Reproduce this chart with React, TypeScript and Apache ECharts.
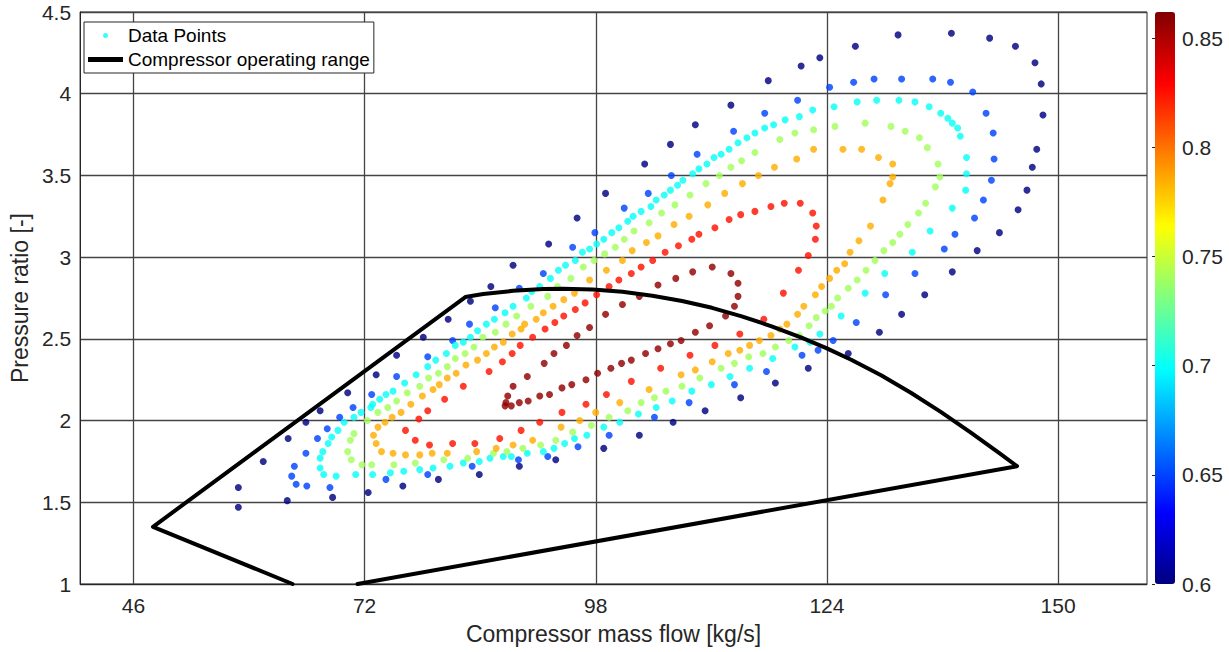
import React, { useEffect, useRef } from "react";
import * as echarts from "echarts";

// Axis tick labels
const xTickValues = [46, 72, 98, 124, 150];

// Efficiency level of each ring of data points (colour value)
const efficiencyLevels = [0.6, 0.65, 0.7, 0.74, 0.785, 0.825, 0.857];

// [mass flow, pressure ratio] for each efficiency ring
const ring060 = [[57.8,1.47],[63.3,1.51],[68.4,1.53],[72.4,1.56],[76.3,1.60],[80.3,1.64],[84.9,1.67],[89.4,1.72],[93.5,1.76],[98.9,1.83],[102.9,1.91],[106.7,1.99],[110.3,2.06],[114.3,2.14],[118.2,2.23],[121.9,2.32],[126.4,2.41],[129.9,2.54],[132.4,2.65],[135.0,2.77],[138.1,2.91],[140.9,3.04],[143.4,3.15],[145.5,3.29],[146.5,3.41],[147.1,3.55],[147.6,3.66],[148.3,3.87],[148.1,4.06],[147.4,4.19],[145.2,4.29],[142.3,4.34],[138.0,4.37],[132.0,4.36],[127.2,4.29],[123.2,4.22],[121.1,4.17],[117.4,4.08],[113.2,3.93],[109.2,3.81],[106.4,3.69],[103.5,3.57],[99.1,3.39],[95.9,3.24],[92.7,3.08],[88.7,2.95],[86.2,2.82],[83.9,2.73],[81.4,2.62],[78.6,2.51],[75.6,2.40],[73.3,2.28],[70.1,2.17],[67.0,2.06],[65.4,1.99],[63.4,1.89],[60.6,1.75],[57.8,1.59]];

const ring065 = [[63.8,1.66],[64.3,1.61],[65.5,1.60],[68.1,1.59],[74.4,1.64],[79.1,1.67],[84.1,1.72],[89.3,1.76],[92.6,1.78],[96.0,1.84],[99.5,1.91],[104.6,2.02],[108.5,2.11],[113.6,2.22],[117.2,2.30],[121.2,2.40],[123.0,2.43],[124.7,2.49],[127.3,2.60],[130.6,2.77],[133.9,2.90],[137.2,3.05],[138.4,3.14],[140.6,3.24],[141.6,3.35],[142.5,3.47],[142.8,3.60],[142.7,3.76],[141.9,3.88],[140.4,4.01],[137.9,4.07],[135.9,4.09],[132.4,4.09],[129.3,4.09],[127.0,4.07],[124.3,4.04],[120.7,3.96],[117.0,3.88],[113.5,3.77],[109.4,3.63],[106.5,3.50],[103.9,3.39],[101.2,3.30],[97.9,3.15],[95.4,3.06],[92.1,2.90],[89.4,2.81],[86.7,2.69],[83.8,2.59],[81.9,2.49],[79.1,2.39],[75.6,2.27],[72.8,2.16],[70.7,2.08],[69.2,2.02],[67.8,1.95],[66.7,1.89],[65.4,1.80],[64.1,1.72]];

const ring070 = [[67.0,1.71],[67.4,1.67],[68.8,1.66],[71.0,1.67],[72.9,1.67],[74.9,1.68],[76.4,1.69],[78.2,1.70],[79.7,1.71],[81.6,1.72],[83.1,1.74],[84.9,1.75],[86.1,1.77],[87.6,1.78],[88.5,1.78],[90.3,1.80],[92.1,1.81],[93.3,1.83],[94.5,1.86],[95.6,1.89],[97.0,1.91],[98.9,1.96],[100.7,1.99],[102.8,2.04],[104.8,2.08],[106.6,2.12],[108.8,2.18],[111.0,2.22],[113.1,2.27],[115.3,2.32],[117.9,2.38],[120.4,2.45],[122.1,2.48],[123.2,2.53],[125.6,2.64],[128.3,2.78],[130.5,2.90],[133.6,3.03],[135.6,3.16],[138.1,3.30],[139.6,3.41],[139.7,3.51],[139.7,3.61],[139.0,3.74],[138.7,3.79],[138.1,3.82],[137.6,3.85],[136.8,3.88],[135.5,3.92],[133.9,3.95],[132.1,3.96],[129.6,3.96],[127.4,3.95],[124.8,3.92],[122.4,3.90],[120.9,3.86],[119.3,3.84],[118.0,3.81],[117.0,3.79],[115.9,3.76],[115.0,3.73],[114.0,3.70],[113.0,3.66],[112.1,3.63],[111.3,3.61],[110.5,3.57],[109.6,3.54],[108.9,3.51],[107.8,3.47],[107.2,3.44],[106.4,3.41],[105.7,3.38],[104.8,3.35],[104.2,3.31],[103.1,3.28],[102.2,3.25],[101.6,3.22],[100.6,3.18],[99.8,3.15],[98.9,3.11],[98.1,3.08],[97.3,3.05],[96.5,3.03],[95.7,2.98],[94.6,2.95],[93.8,2.92],[92.9,2.87],[91.7,2.82],[90.8,2.79],[90.2,2.75],[88.7,2.70],[87.8,2.66],[86.6,2.62],[85.7,2.59],[84.7,2.55],[83.9,2.51],[83.1,2.48],[82.2,2.46],[81.2,2.41],[80.0,2.37],[79.1,2.33],[77.8,2.28],[76.5,2.23],[75.2,2.18],[74.4,2.16],[73.7,2.13],[72.9,2.10],[72.7,2.08],[71.6,2.05],[70.8,2.02],[69.7,1.99],[69.0,1.94],[68.3,1.90],[67.9,1.86],[67.3,1.81],[67.0,1.77]];

const ring074 = [[70.1,1.81],[70.5,1.76],[71.7,1.73],[72.8,1.73],[75.3,1.73],[77.7,1.74],[80.9,1.76],[83.6,1.77],[86.5,1.80],[88.0,1.81],[89.8,1.83],[91.8,1.85],[93.5,1.88],[95.4,1.93],[97.5,1.97],[99.5,2.02],[101.6,2.06],[103.1,2.11],[104.6,2.14],[105.9,2.18],[107.7,2.21],[109.7,2.26],[112.1,2.32],[113.6,2.35],[115.2,2.39],[116.8,2.41],[118.2,2.45],[119.7,2.49],[120.9,2.52],[122.0,2.58],[122.8,2.63],[123.8,2.67],[124.5,2.70],[125.2,2.75],[126.4,2.81],[127.4,2.86],[128.4,2.92],[129.4,2.98],[130.4,3.04],[131.4,3.09],[132.2,3.14],[133.1,3.20],[134.3,3.27],[135.1,3.33],[136.2,3.43],[136.7,3.49],[136.5,3.57],[135.3,3.67],[134.4,3.73],[132.8,3.77],[131.2,3.80],[128.3,3.82],[124.9,3.80],[122.5,3.78],[120.4,3.76],[118.7,3.72],[115.9,3.64],[114.4,3.59],[113.2,3.55],[111.9,3.50],[110.4,3.45],[108.6,3.38],[106.9,3.32],[105.4,3.27],[104.0,3.21],[102.3,3.16],[101.2,3.11],[100.2,3.06],[99.0,3.02],[97.8,2.98],[96.6,2.94],[95.2,2.87],[93.7,2.82],[92.6,2.76],[90.7,2.70],[89.1,2.64],[87.9,2.59],[86.7,2.54],[85.3,2.51],[84.3,2.45],[83.3,2.41],[82.2,2.38],[81.3,2.33],[80.3,2.29],[79.2,2.26],[78.2,2.21],[76.8,2.17],[75.6,2.12],[74.6,2.08],[73.5,2.05],[72.3,2.00],[70.8,1.92],[70.4,1.88]];

const ring078 = [[73.0,1.91],[73.3,1.86],[73.9,1.81],[75.2,1.80],[76.6,1.79],[78.2,1.79],[79.6,1.80],[81.3,1.80],[84.6,1.81],[86.8,1.83],[88.7,1.85],[90.9,1.88],[94.1,1.96],[96.2,2.00],[98.0,2.05],[100.7,2.11],[104.0,2.19],[107.6,2.28],[109.2,2.31],[111.1,2.36],[112.9,2.41],[114.2,2.43],[115.3,2.46],[116.4,2.49],[117.7,2.52],[118.7,2.56],[119.5,2.59],[120.7,2.65],[121.4,2.70],[122.7,2.77],[123.4,2.82],[124.3,2.87],[125.1,2.92],[126.0,2.96],[126.6,3.03],[127.6,3.10],[128.9,3.19],[130.3,3.35],[131.1,3.45],[131.4,3.49],[131.4,3.57],[129.8,3.61],[127.9,3.66],[125.8,3.66],[122.5,3.66],[120.6,3.60],[118.1,3.55],[116.3,3.50],[114.5,3.45],[112.5,3.39],[110.6,3.32],[108.5,3.25],[106.8,3.20],[105.0,3.13],[103.7,3.09],[102.1,3.04],[101.0,2.98],[99.2,2.92],[97.3,2.86],[95.6,2.78],[94.4,2.74],[93.2,2.70],[92.1,2.66],[91.3,2.62],[90.0,2.59],[89.6,2.56],[88.6,2.53],[87.6,2.48],[86.6,2.45],[85.7,2.41],[84.7,2.37],[83.4,2.34],[82.3,2.29],[81.3,2.26],[80.4,2.22],[79.7,2.19],[78.5,2.15],[77.2,2.10],[76.1,2.05],[75.1,2.02],[74.3,1.99],[73.5,1.96]];

const ring082 = [[76.6,1.94],[77.7,1.88],[79.3,1.85],[81.9,1.86],[84.4,1.86],[87.2,1.89],[89.6,1.94],[91.7,1.99],[94.2,2.05],[96.9,2.10],[99.2,2.16],[102.0,2.24],[105.3,2.32],[108.6,2.40],[111.4,2.46],[114.2,2.53],[116.9,2.62],[119.1,2.78],[120.8,2.92],[121.9,3.01],[122.7,3.11],[122.8,3.19],[122.4,3.27],[121.0,3.33],[119.2,3.33],[117.7,3.31],[115.9,3.28],[114.3,3.26],[113.0,3.23],[111.4,3.18],[109.6,3.14],[108.8,3.11],[107.3,3.07],[105.8,3.03],[104.4,2.98],[103.1,2.94],[102.0,2.90],[100.6,2.86],[99.5,2.82],[98.1,2.77],[96.8,2.72],[95.7,2.68],[94.4,2.64],[93.4,2.60],[92.3,2.56],[90.9,2.51],[89.5,2.46],[88.6,2.41],[87.5,2.36],[86.0,2.30],[83.1,2.21],[81.0,2.13],[79.1,2.06],[78.1,2.01]];

const ring086 = [[87.9,2.11],[87.8,2.09],[88.5,2.09],[89.4,2.11],[90.4,2.12],[91.7,2.15],[92.8,2.16],[94.2,2.20],[95.3,2.22],[96.9,2.25],[98.2,2.29],[99.7,2.32],[100.9,2.35],[102.0,2.37],[103.6,2.41],[105.0,2.44],[106.4,2.47],[107.6,2.49],[109.2,2.54],[110.8,2.58],[112.6,2.64],[113.6,2.70],[114.0,2.76],[114.0,2.84],[113.2,2.90],[111.1,2.94],[108.9,2.91],[107.0,2.87],[105.0,2.83],[102.9,2.76],[101.0,2.71],[99.1,2.65],[97.3,2.57],[95.9,2.52],[94.7,2.46],[93.3,2.41],[92.2,2.35],[90.3,2.27],[88.7,2.21],[88.1,2.15]];

// Compressor operating range boundary (closed outline)
const operatingRange = [[63.9,1.0],[48.2,1.35],[83.33,2.756],[85.34,2.774],[88.70,2.794],[92.05,2.805],[94.29,2.807],[97.65,2.802],[101.00,2.788],[104.36,2.764],[107.71,2.732],[111.07,2.690],[114.42,2.638],[117.78,2.577],[121.14,2.508],[123.93,2.443],[126.73,2.372],[130.09,2.277],[133.44,2.170],[136.80,2.053],[140.15,1.928],[143.51,1.796],[145.38,1.721],[71.2,1.0]];

const jet = ["#000080", "#0000ff", "#0080ff", "#00ffff", "#80ff80", "#ffff00", "#ff8000", "#ff0000", "#800000"];
const FONT = '"Liberation Sans", Arial, Helvetica, sans-serif';
const TXT = "#262626";
const RANGE_NAME = "Compressor operating range";

export default function App() {
  const ref = useRef<HTMLDivElement>(null);
  useEffect(() => {
    const chart = echarts.init(ref.current!, null, { renderer: "svg" });
    const rings = [ring060, ring065, ring070, ring074, ring078, ring082, ring086];
    const points = rings.flatMap((r, i) => r.map(([x, y]) => [x, y, efficiencyLevels[i]]));
    chart.setOption({
      animation: false,
      backgroundColor: "#fff",
      textStyle: { fontFamily: FONT },
      grid: [
        { left: 75, top: 12, width: 1072, height: 572, show: true, borderColor: TXT, borderWidth: 1, backgroundColor: "#fff" },
        { left: 1155, top: 12, width: 20, height: 572, show: false },
      ],
      xAxis: [
        {
          type: "value", gridIndex: 0, min: 40, max: 160,
          name: "Compressor mass flow [kg/s]", nameLocation: "middle", nameGap: 38,
          nameTextStyle: { fontSize: 23, color: TXT, fontFamily: FONT },
          axisLine: { show: true, lineStyle: { color: TXT, width: 1 } },
          axisTick: { show: false, customValues: xTickValues },
          axisLabel: { customValues: xTickValues, fontSize: 21, color: TXT, margin: 11, fontFamily: FONT },
          splitLine: { show: true, lineStyle: { color: "#444", width: 1.3 } },
        },
        { type: "value", gridIndex: 1, show: false, min: 0, max: 1 },
      ],
      yAxis: [
        {
          type: "value", gridIndex: 0, min: 1, max: 4.5, interval: 0.5,
          name: "Pressure ratio [-]", nameLocation: "middle", nameGap: 43, nameRotate: 90,
          nameTextStyle: { fontSize: 23, color: TXT, fontFamily: FONT },
          axisLine: { show: true, lineStyle: { color: TXT, width: 1 } },
          axisTick: { show: false },
          axisLabel: { fontSize: 21, color: TXT, margin: 9, fontFamily: FONT },
          splitLine: { show: true, lineStyle: { color: "#444", width: 1.3 } },
        },
        {
          type: "value", gridIndex: 1, position: "right", min: 0.6, max: 0.862, interval: 0.05,
          axisLine: { show: false },
          axisTick: { show: true, inside: true, length: 3, lineStyle: { color: TXT } },
          axisLabel: { fontSize: 21, color: TXT, margin: 7, showMaxLabel: false, fontFamily: FONT },
          splitLine: { show: false },
        },
      ],
      visualMap: {
        type: "continuous", min: 0.6, max: 0.862, dimension: 2, seriesIndex: 0,
        calculable: false, hoverLink: false, left: 1155, top: 12, padding: 0,
        itemWidth: 20, itemHeight: 572, inRange: { color: jet },
      },
      legend: {
        orient: "vertical", left: 84, top: 22, padding: [4, 4, 4, 4], itemGap: 5,
        itemWidth: 35, itemHeight: 5, backgroundColor: "#fff",
        borderColor: TXT, borderWidth: 1, borderRadius: 0,
        textStyle: { fontSize: 19, color: "#000", fontFamily: FONT },
        data: [
          { name: "Data Points", icon: "circle", itemStyle: { color: "#33ffff", opacity: 1 } },
          { name: RANGE_NAME, icon: "rect", itemStyle: { color: "#000" } },
        ],
      },
      series: [
        {
          name: "Data Points", type: "scatter", xAxisIndex: 0, yAxisIndex: 0,
          symbolSize: 7, data: points, itemStyle: { color: "#00ffff", opacity: 0.82 }, z: 2,
        },
        {
          name: RANGE_NAME, type: "line", xAxisIndex: 0, yAxisIndex: 0,
          data: operatingRange, showSymbol: false, symbol: "none", smooth: false,
          lineStyle: { color: "#000", width: 4, cap: "round", join: "round" },
          itemStyle: { color: "#000" }, z: 5,
        },
      ],
    });
    return () => chart.dispose();
  }, []);
  return (
    <div
      ref={ref}
      style={{ position: "fixed", left: 0, top: 0, width: 1229, height: 652, background: "#fff" }}
    />
  );
}
